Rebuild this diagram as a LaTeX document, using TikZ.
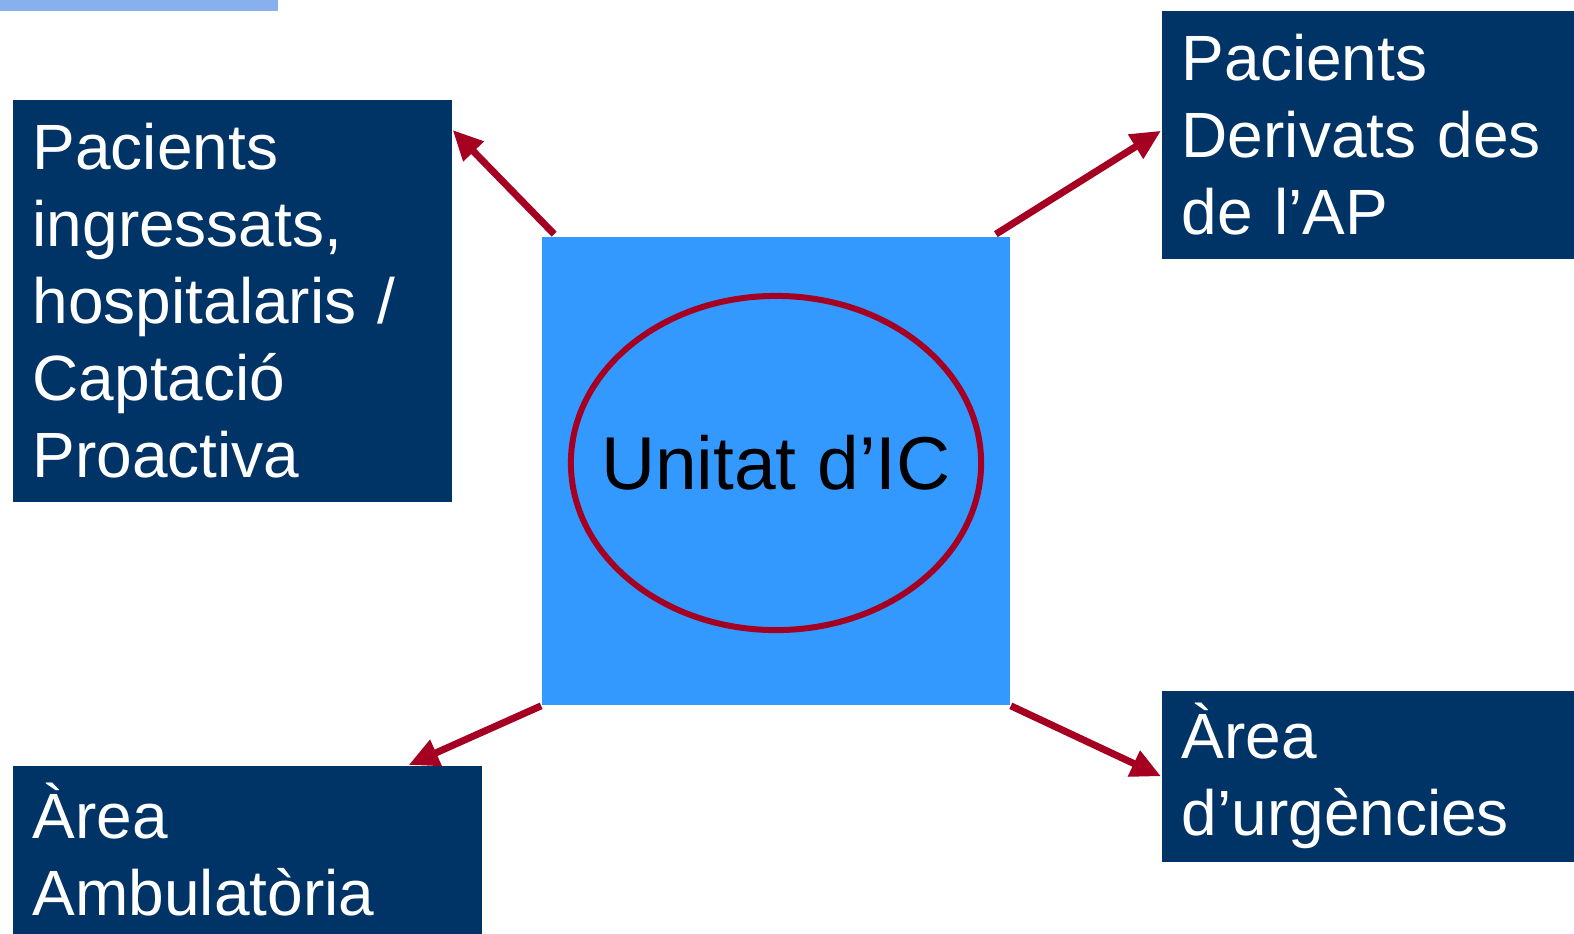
\documentclass[tikz,border=0pt]{standalone}
\usepackage{fontspec}
\setmainfont{Liberation Sans}
\usetikzlibrary{arrows.meta, shapes.geometric}

\definecolor{boxblue}{HTML}{003366}
\definecolor{unitblue}{HTML}{3399FF}
\definecolor{linkred}{HTML}{A50021}
\definecolor{stripblue}{HTML}{88B0EE}

\begin{document}
\begin{tikzpicture}[x=0.01cm, y=-0.01cm,
    area/.style={fill=boxblue, text=white, anchor=north west, align=left,
        inner xsep=0.2cm, inner ysep=0pt,
        font=\fontsize{18.2}{21.9}\selectfont},
    link/.style={draw=linkred, line width=0.07cm,
        -{Triangle[length=0.3cm, width=0.27cm]}}]
    % Frame
    \useasboundingbox (0,0) rectangle (1574,933);
    \fill[stripblue] (0,0) rectangle (278,11);
    % Central unit
    \node[fill=unitblue, minimum size=4.68cm, inner sep=0pt] (ic) at (776,471) {};
    \node[ellipse, draw=linkred, line width=0.06cm, minimum width=4.1cm,
        minimum height=3.34cm, inner sep=0pt] (ring) at (776,463) {};
    \node[font=\fontsize{21.3}{25}\selectfont, inner sep=0pt] (unit) at (ring) {Unitat d’IC};
    % Boxes
    \node[area, text width=3.99cm, minimum height=4.02cm] (tl) at (12,99)
        {Pacients\\ingressats,\\hospitalaris /\\Captació\\Proactiva};
    \node[area, text width=4.0cm, minimum height=2.48cm] (tr) at (1161,10)
        {Pacients\\Derivats des\\de l’AP};
    \node[area, text width=4.29cm, minimum height=1.68cm] (bl) at (12,765)
        {Àrea\\Ambulatòria};
    \node[area, text width=4.0cm, minimum height=1.71cm] (br) at (1161,690)
        {Àrea\\d’urgències};
    % Arrows
    \draw[link] ([xshift=0.13cm, yshift=0.02cm]ic.north west) -- ([yshift=-0.31cm]tl.north east);
    \draw[link] ([xshift=-0.15cm, yshift=0.02cm]ic.north east) -- ([yshift=0.04cm]tr.west);
    \draw[link] (ic.south west) -- ([xshift=-0.74cm]bl.north east);
    \draw[link] (ic.south east) -- (br.west);
\end{tikzpicture}
\end{document}
